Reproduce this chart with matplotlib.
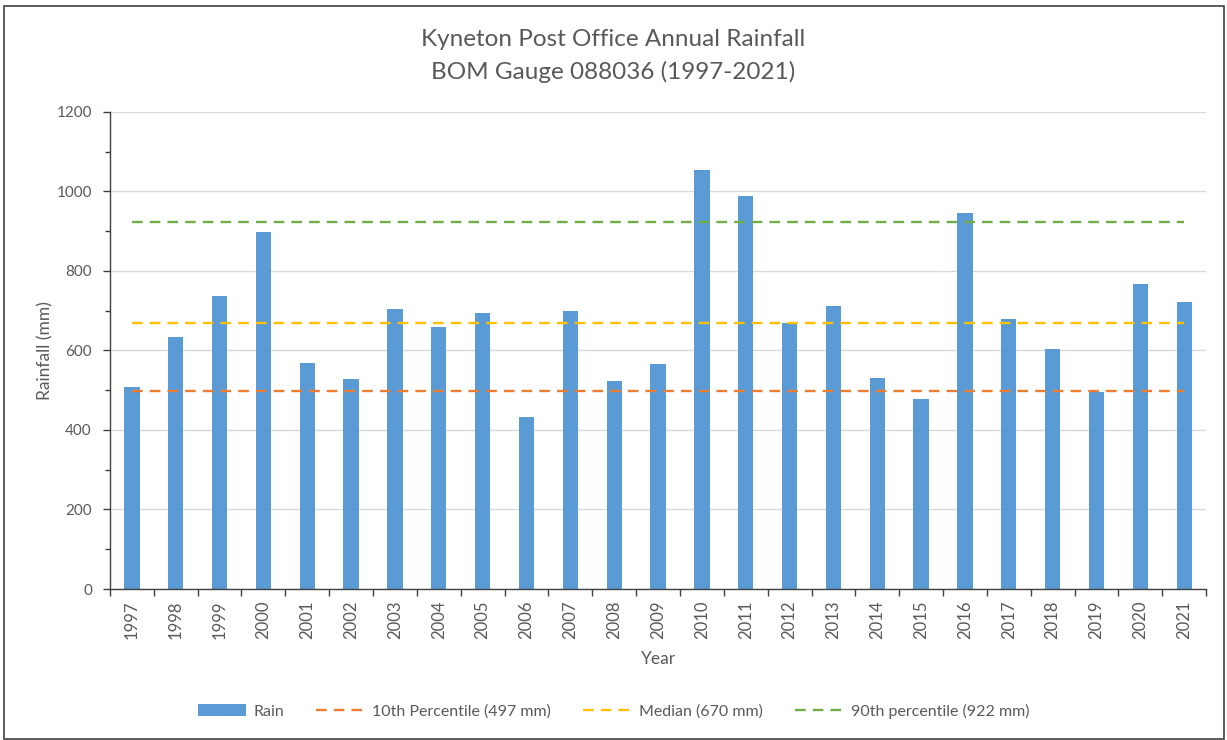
import numpy as np
import matplotlib.pyplot as plt
from matplotlib.patches import Rectangle

# annual rainfall at Kyneton Post Office
years = [str(y) for y in range(1997, 2022)]
rain = [508, 634, 737, 897, 569, 528, 705, 660, 693, 432, 700, 522, 567,
        1053, 989, 670, 712, 530, 477, 945, 680, 603, 495, 767, 722]
p10 = 497
median = 670
p90 = 922

plt.rcParams['font.family'] = ['Lato', 'DejaVu Sans']
text_col = '#595959'

fig = plt.figure(figsize=(12.27, 7.40), dpi=100)
ax = fig.add_axes([0.0896, 0.204, 0.8934, 0.645])

x = np.arange(len(years))
bars = ax.bar(x, rain, width=0.35, color='#5B9BD5', label='Rain', zorder=2)

# reference lines span first to last category centre
l10, = ax.plot([x[0], x[-1]], [p10, p10], color='#ED7D31', lw=1.7, dashes=(4.5, 3),
               label=f'10th Percentile ({p10} mm)', zorder=3)
lmed, = ax.plot([x[0], x[-1]], [median, median], color='#FFC000', lw=1.7, dashes=(4.5, 3),
                label=f'Median ({median} mm)', zorder=3)
l90, = ax.plot([x[0], x[-1]], [p90, p90], color='#70AD47', lw=1.7, dashes=(4.5, 3),
               label=f'90th percentile ({p90} mm)', zorder=3)

ax.set_xlim(-0.5, len(years) - 0.5)
ax.set_ylim(0, 1200)
ax.set_yticks(np.arange(0, 1201, 200))
ax.set_yticks(np.arange(100, 1200, 200), minor=True)
ax.yaxis.grid(True, color='#D9D9D9', lw=1, zorder=0)
ax.set_axisbelow(True)

# x ticks sit between categories, labels in the middle
ax.set_xticks(np.arange(-0.5, len(years), 1))
ax.set_xticklabels([])
ax.set_xticks(x, minor=True)
ax.set_xticklabels(years, minor=True, rotation=90, fontsize=12, color=text_col)
ax.tick_params(axis='x', which='minor', length=0, pad=8)
ax.tick_params(axis='x', which='major', length=5, width=1, color='#404040')
ax.tick_params(axis='y', which='major', length=5, width=1, color='#404040',
               labelsize=11, labelcolor=text_col, pad=8)
ax.tick_params(axis='y', which='minor', length=3.5, width=1, color='#404040')

for s in ['top', 'right']:
    ax.spines[s].set_visible(False)
for s in ['left', 'bottom']:
    ax.spines[s].set_color('#404040')
    ax.spines[s].set_linewidth(1)

ax.set_xlabel('Year', fontsize=12.5, color=text_col, labelpad=9)
ax.set_ylabel('Rainfall (mm)', fontsize=12.5, color=text_col, labelpad=2)

fig.text(0.5, 1 - 40 / 740, 'Kyneton Post Office Annual Rainfall', ha='center',
         va='center', fontsize=17.5, color=text_col)
fig.text(0.5, 1 - 72 / 740, 'BOM Gauge 088036 (1997-2021)', ha='center',
         va='center', fontsize=17.5, color=text_col)

fig.legend(handles=[bars, l10, lmed, l90], loc='center',
           bbox_to_anchor=(0.5, 1 - 711 / 740), ncol=4, frameon=False,
           fontsize=11.5, handlelength=3.0, columnspacing=2.0,
           handletextpad=0.5, labelcolor=text_col)

fig.patches.append(Rectangle((4 / 1227, 1 / 740), 1220 / 1227, 733 / 740,
                             transform=fig.transFigure, fill=False,
                             edgecolor='#404040', lw=1.2))

fig.savefig('out.png', dpi=100)
